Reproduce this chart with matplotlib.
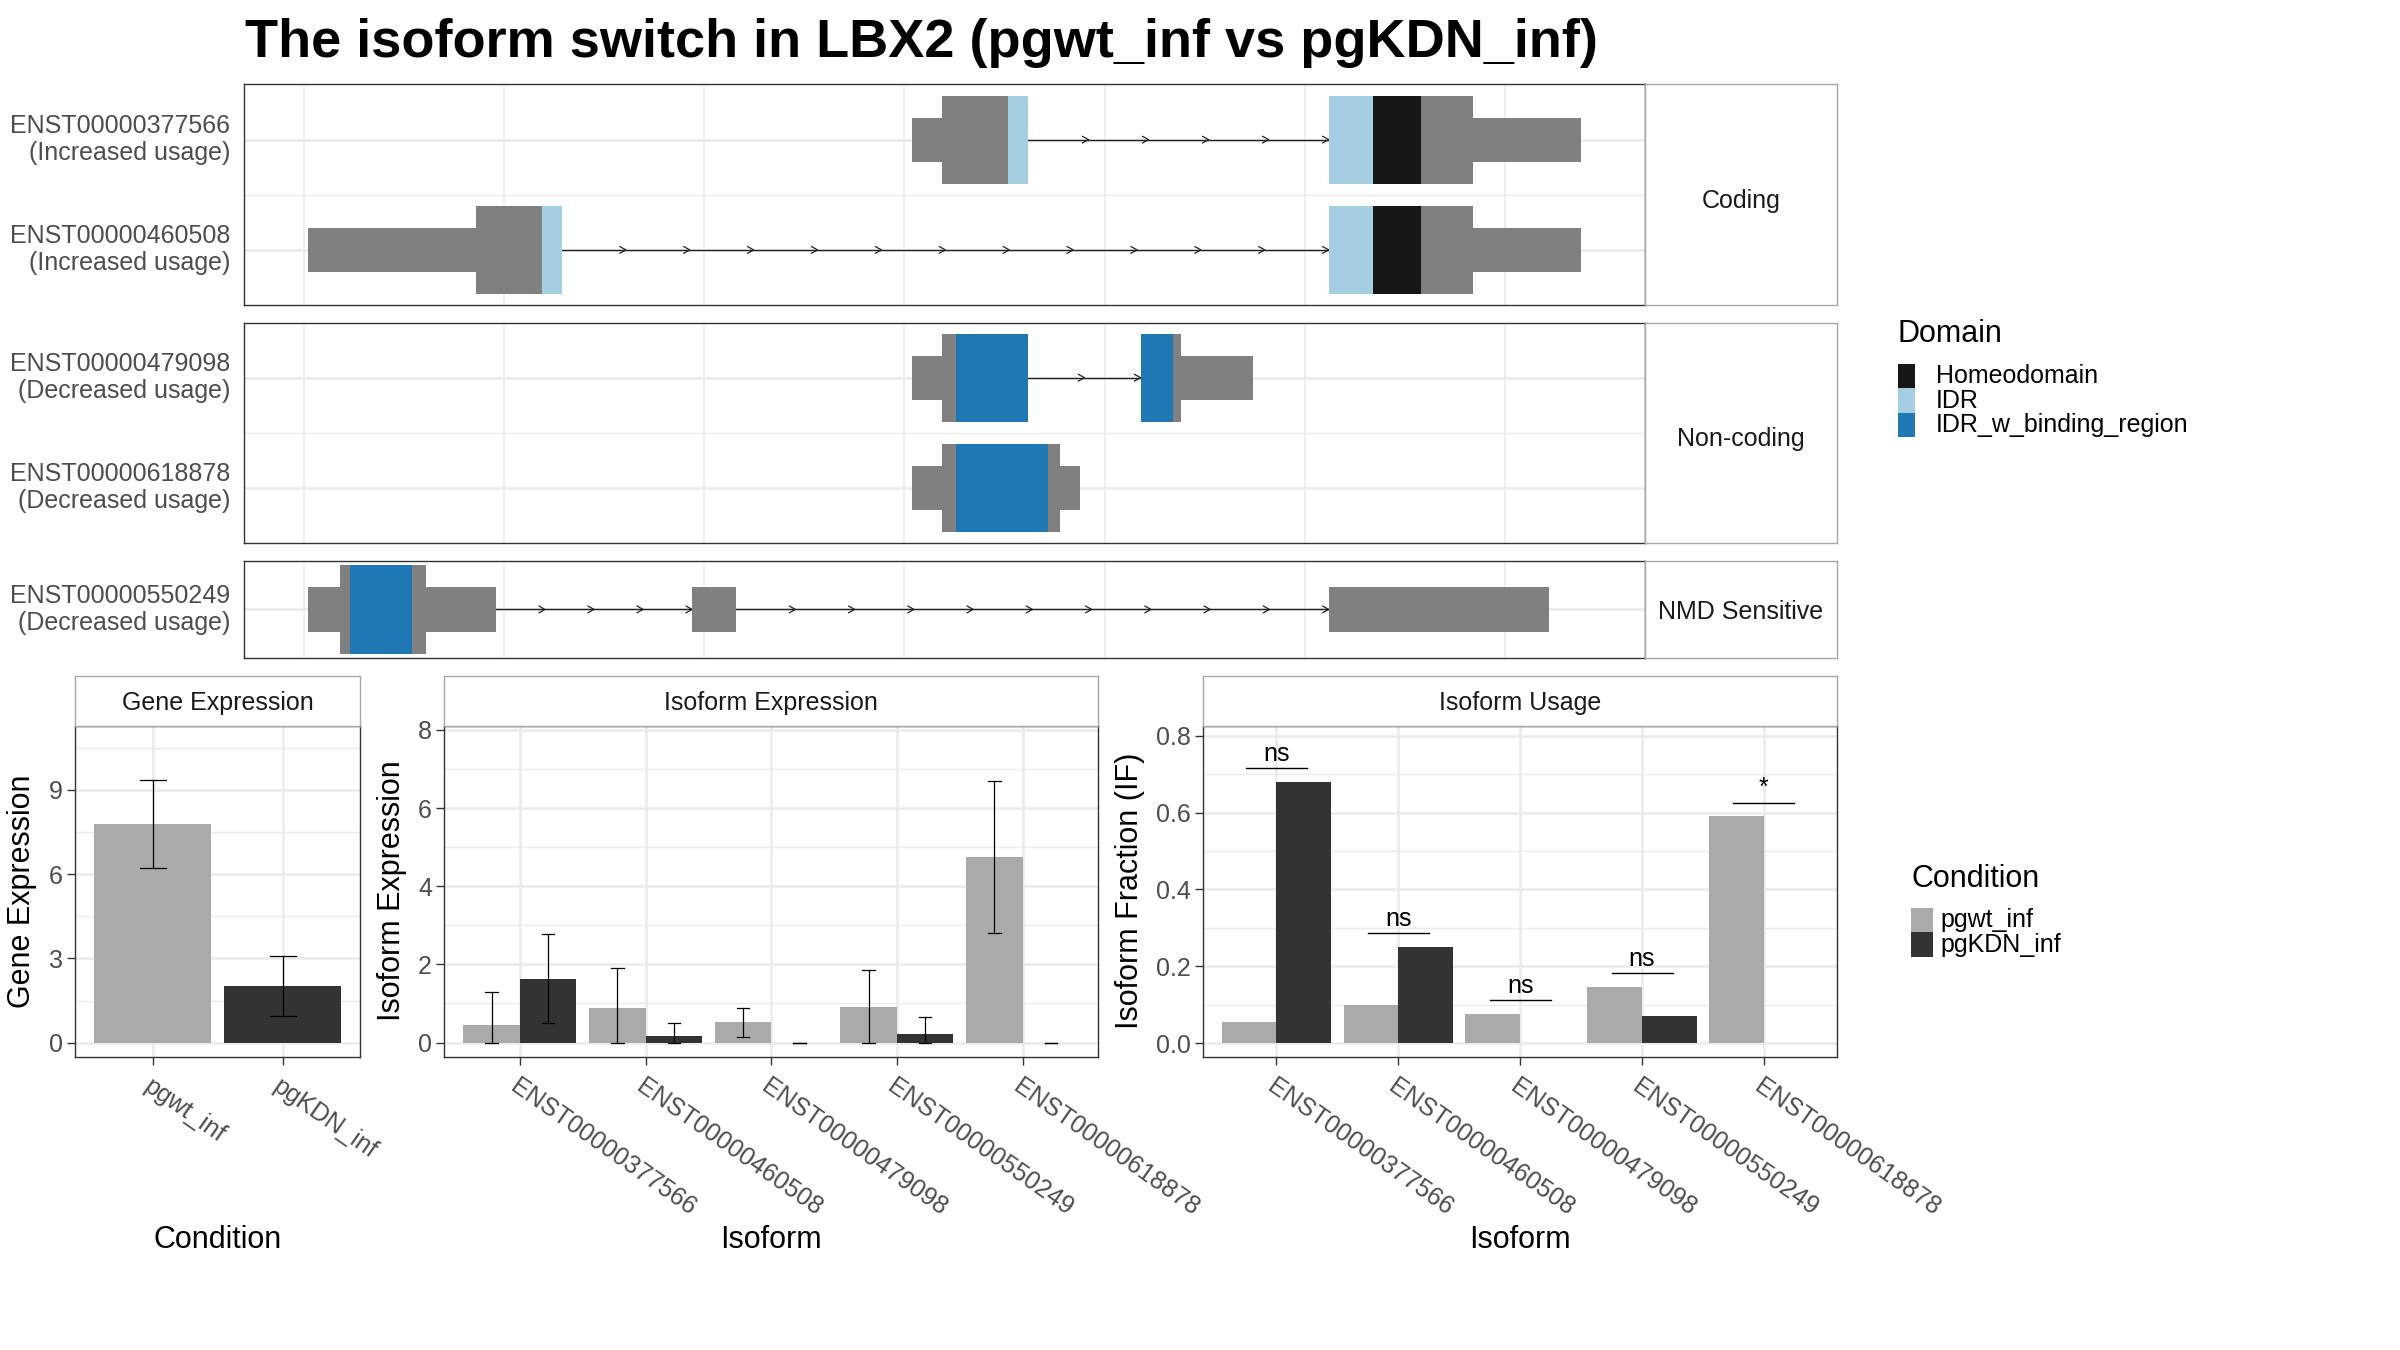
import math

import matplotlib
matplotlib.use("Agg")
import matplotlib.pyplot as plt
from matplotlib.patches import Rectangle

plt.rcParams["font.family"] = ["Liberation Sans", "DejaVu Sans"]

# ---- transcript structures (top) ----
TX_IDS = ["ENST00000377566", "ENST00000460508", "ENST00000479098",
          "ENST00000618878", "ENST00000550249"]
TX_USAGE = ["Increased usage", "Increased usage", "Decreased usage",
            "Decreased usage", "Decreased usage"]
TX_CLASS = ["Coding", "Coding", "Non-coding", "Non-coding", "NMD Sensitive"]
CLASS_ORDER = ["Coding", "Non-coding", "NMD Sensitive"]

TX_EXONS = [
    [(304, 362), (512, 638)],
    [(2, 129), (512, 638)],
    [(304, 362), (418, 474)],
    [(304, 388)],
    [(2, 96), (194, 216), (512, 622)],
]
TX_CDS = [
    [(319, 362), (512, 584)],
    [(86, 129), (512, 584)],
    [(319, 362), (418, 438)],
    [(319, 378)],
    [(18, 61)],
]
TX_DOMAINS = [
    [("IDR", 352, 362), ("IDR", 512, 534), ("Homeodomain", 534, 558)],
    [("IDR", 119, 129), ("IDR", 512, 534), ("Homeodomain", 534, 558)],
    [("IDR_w_binding_region", 326, 362), ("IDR_w_binding_region", 418, 434)],
    [("IDR_w_binding_region", 326, 372)],
    [("IDR_w_binding_region", 23, 54)],
]
DOMAIN_NAMES = ["Homeodomain", "IDR", "IDR_w_binding_region"]
DOMAIN_COLORS = ["#171717", "#A6CEE3", "#1F78B4"]

# ---- expression / usage (bottom) ----
CONDITIONS = ["pgwt_inf", "pgKDN_inf"]
COND_COLORS = ["#AAAAAA", "#333333"]
GENE_EXP = [7.77, 2.02]
GENE_LO = [6.23, 0.96]
GENE_HI = [9.35, 3.08]

ISOFORMS = ["ENST00000377566", "ENST00000460508", "ENST00000479098",
            "ENST00000550249", "ENST00000618878"]
ISO_EXP_WT = [0.45, 0.88, 0.52, 0.90, 4.75]
ISO_EXP_KD = [1.62, 0.16, 0.0, 0.21, 0.0]
ISO_EXP_WT_LO = [0.0, 0.0, 0.15, 0.0, 2.79]
ISO_EXP_WT_HI = [1.30, 1.90, 0.89, 1.86, 6.70]
ISO_EXP_KD_LO = [0.50, 0.0, 0.0, 0.0, 0.0]
ISO_EXP_KD_HI = [2.77, 0.51, 0.0, 0.66, 0.0]
IF_WT = [0.055, 0.100, 0.076, 0.147, 0.591]
IF_KD = [0.680, 0.251, 0.0, 0.071, 0.0]
SIG = ["ns", "ns", "ns", "ns", "*"]

EXON_GREY = "#808080"
GRID = "#EBEBEB"
DARK = "#333333"
AXTXT = "#4D4D4D"
STRIP_EDGE = "#A8A8A8"

W, H = 1568.0, 882.0
fig = plt.figure(figsize=(24, 13.5), dpi=100)


def add_ax(x0, y0, x1, y1):
    # layout box given in reference pixels (1568 x 882 grid)
    return fig.add_axes([x0 / W, 1 - y1 / H, (x1 - x0) / W, (y1 - y0) / H])


def style_spines(ax, color=DARK, lw=1.0):
    for s in ax.spines.values():
        s.set_color(color)
        s.set_linewidth(lw)


def strip(x0, y0, x1, y1, label):
    sa = add_ax(x0, y0, x1, y1)
    sa.set_xticks([]); sa.set_yticks([])
    style_spines(sa, STRIP_EDGE, 1.0)
    sa.text(0.5, 0.47, label, ha="center", va="center", fontsize=18,
            color="#1A1A1A", transform=sa.transAxes)
    return sa


fig.text(160 / W, 1 - 28 / H, "The isoform switch in LBX2 (pgwt_inf vs pgKDN_inf)",
         fontsize=39, fontweight="bold", ha="left", va="center")

# ---- transcript panels ----
PANEL_Y = {"Coding": (55.2, 199.3, 0.5, 2.5),
           "Non-coding": (210.8, 354.6, 0.5, 2.5),
           "NMD Sensitive": (366.5, 429.8, 0.565, 1.435)}
THICK, THIN = 0.4, 0.2

for cls in CLASS_ORDER:
    y0, y1, lo, hi = PANEL_Y[cls]
    ax = add_ax(159.5, y0, 1074.6, y1)
    idx = [i for i, c in enumerate(TX_CLASS) if c == cls]
    rows = list(range(len(idx), 0, -1))
    ax.set_xlim(-29.8, 669.9)
    ax.set_ylim(lo, hi)
    for gx in range(0, 700, 100):
        ax.axvline(gx, color=GRID, lw=1.1, zorder=0)
    for r in rows:
        ax.axhline(r, color=GRID, lw=1.8, zorder=0)
    for r in rows[:-1]:
        ax.axhline(r - 0.5, color=GRID, lw=1.0, zorder=0)

    for i, yr in zip(idx, rows):
        exons = TX_EXONS[i]
        # introns with direction chevrons
        for (s0, e0), (s1, e1) in zip(exons[:-1], exons[1:]):
            ax.plot([e0, s1], [yr, yr], color="#222222", lw=1.0, zorder=1)
            n = math.ceil((s1 - e0) / 32)
            step = (s1 - e0) / n
            for k in range(1, n + 1):
                cx = e0 + k * step
                ax.plot([cx - 3, cx, cx - 3], [yr + 0.03, yr, yr - 0.03],
                        color="#222222", lw=0.9, zorder=1)
        for s, e in exons:
            ax.add_patch(Rectangle((s, yr - THIN), e - s, 2 * THIN,
                                   facecolor=EXON_GREY, edgecolor="none", zorder=2))
        for s, e in TX_CDS[i]:
            ax.add_patch(Rectangle((s, yr - THICK), e - s, 2 * THICK,
                                   facecolor=EXON_GREY, edgecolor="none", zorder=2))
        for name, s, e in TX_DOMAINS[i]:
            col = DOMAIN_COLORS[DOMAIN_NAMES.index(name)]
            ax.add_patch(Rectangle((s, yr - THICK), e - s, 2 * THICK,
                                   facecolor=col, edgecolor="none", zorder=3))

    ax.set_xticks([])
    ax.set_yticks(rows)
    ax.set_yticklabels([f"{TX_IDS[i]}\n({TX_USAGE[i]})" for i in idx],
                       fontsize=18, color=AXTXT, va="center", linespacing=1.15)
    ax.tick_params(axis="y", length=0, pad=10)
    style_spines(ax)
    strip(1074.6, y0, 1200.1, y1, cls)


def legend_block(x, y_title, title, names, colors, key_top, key_h, key_w, text_x):
    fig.text(x / W, 1 - y_title / H, title, fontsize=22, ha="left", va="center")
    for k, (nm, col) in enumerate(zip(names, colors)):
        top = key_top + k * key_h
        fig.patches.append(Rectangle((x / W, 1 - (top + key_h) / H), key_w / W, key_h / H,
                                     facecolor=col, edgecolor="none",
                                     transform=fig.transFigure, figure=fig))
        fig.text(text_x / W, 1 - (top + key_h / 2) / H, nm, fontsize=18,
                 ha="left", va="center")


legend_block(1239.8, 218.5, "Domain", DOMAIN_NAMES, DOMAIN_COLORS,
             237.8, 16.0, 11.5, 1264.7)


# ---- bottom panels ----
def base_panel(x0, x1, title, ylim, major, minor, ncat):
    ax = add_ax(x0, 474.6, x1, 690.8)
    ax.set_xlim(0.4, ncat + 0.6)
    ax.set_ylim(*ylim)
    for v in minor:
        ax.axhline(v, color=GRID, lw=1.0, zorder=0)
    for v in major:
        ax.axhline(v, color=GRID, lw=1.8, zorder=0)
    for c in range(1, ncat + 1):
        ax.axvline(c, color=GRID, lw=1.8, zorder=0)
    ax.set_yticks(major)
    ax.tick_params(colors=DARK, labelcolor=AXTXT, labelsize=18, length=6, width=1.0, pad=3)
    ax.tick_params(axis="x", pad=6)
    style_spines(ax)
    strip(x0, 441.5, x1, 474.6, title)
    return ax


def errbars(ax, xs, lo, hi, half):
    for x, a, b in zip(xs, lo, hi):
        ax.plot([x, x], [a, b], color="black", lw=0.9, zorder=4)
        ax.plot([x - half, x + half], [a, a], color="black", lw=0.9, zorder=4)
        ax.plot([x - half, x + half], [b, b], color="black", lw=0.9, zorder=4)


def rot_labels(ax, labels):
    ax.set_xticks(range(1, len(labels) + 1))
    ax.set_xticklabels(labels, rotation=-35, ha="left", va="top",
                       rotation_mode="anchor", fontsize=18, color=AXTXT)


# Gene expression
ax = base_panel(49, 235.5, "Gene Expression", (-0.52, 11.26),
                [0, 3, 6, 9], [1.5, 4.5, 7.5, 10.5], 2)
gx = [1, 2]
ax.bar(gx, GENE_EXP, width=0.9, color=COND_COLORS, zorder=2)
errbars(ax, gx, GENE_LO, GENE_HI, 0.1)
ax.set_yticklabels(["0", "3", "6", "9"])
rot_labels(ax, CONDITIONS)

# Isoform expression
ax = base_panel(290.4, 717.3, "Isoform Expression", (-0.38, 8.09),
                [0, 2, 4, 6, 8], [1, 3, 5, 7], 5)
xs = list(range(1, 6))
xw = [x - 0.225 for x in xs]
xk = [x + 0.225 for x in xs]
ax.bar(xw, ISO_EXP_WT, width=0.45, color=COND_COLORS[0], zorder=2)
ax.bar(xk, ISO_EXP_KD, width=0.45, color=COND_COLORS[1], zorder=2)
errbars(ax, xw, ISO_EXP_WT_LO, ISO_EXP_WT_HI, 0.05)
errbars(ax, xk, ISO_EXP_KD_LO, ISO_EXP_KD_HI, 0.05)
ax.set_yticklabels(["0", "2", "4", "6", "8"])
rot_labels(ax, ISOFORMS)

# Isoform usage
ax = base_panel(786.2, 1200.2, "Isoform Usage", (-0.037, 0.824),
                [0.0, 0.2, 0.4, 0.6, 0.8], [0.1, 0.3, 0.5, 0.7], 5)
ax.bar(xw, IF_WT, width=0.45, color=COND_COLORS[0], zorder=2)
ax.bar(xk, IF_KD, width=0.45, color=COND_COLORS[1], zorder=2)
for x, a, b, lab in zip(xs, IF_WT, IF_KD, SIG):
    yl = max(a, b) + 0.035
    ax.plot([x - 0.25, x + 0.25], [yl, yl], color="black", lw=1.0, zorder=4)
    ax.text(x, yl + 0.006, lab, ha="center", va="bottom", fontsize=18, zorder=4)
ax.set_yticklabels(["0.0", "0.2", "0.4", "0.6", "0.8"])
rot_labels(ax, ISOFORMS)

# axis titles
for xc, txt in [(14.5, "Gene Expression"), (256, "Isoform Expression"),
                (738, "Isoform Fraction (IF)")]:
    fig.text(xc / W, 1 - 582 / H, txt, rotation=90, fontsize=22, ha="center", va="center")
for xc, txt in [(142, "Condition"), (504, "Isoform"), (993, "Isoform")]:
    fig.text(xc / W, 1 - 810 / H, txt, fontsize=22, ha="center", va="center")

legend_block(1248.6, 574, "Condition", CONDITIONS, COND_COLORS,
             593.0, 16.2, 14.1, 1268)

fig.savefig("out.png", dpi=100, facecolor="white")
